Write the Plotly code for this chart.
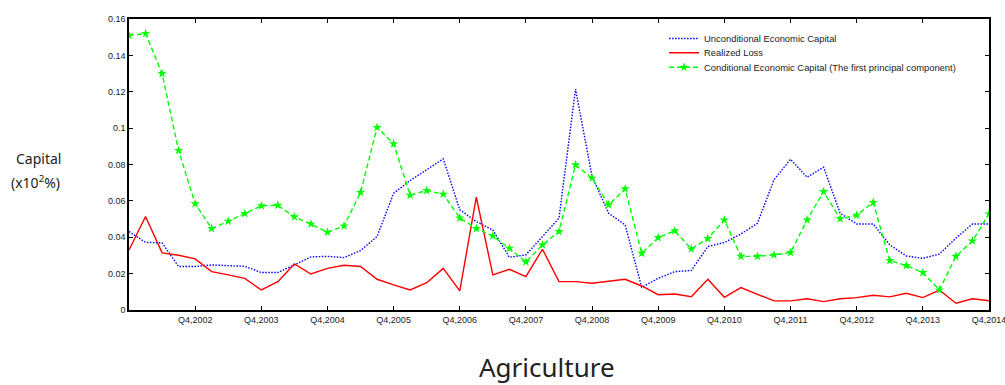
import plotly.graph_objects as go

tick_labels = ["Q4,%d" % y for y in range(2002, 2015)]
tick_pos = [4 * (k + 1) for k in range(len(tick_labels))]

unconditional = [0.0431, 0.0372, 0.0369, 0.0239, 0.0239, 0.0248, 0.0244, 0.0240, 0.0206, 0.0206,
                 0.0248, 0.0292, 0.0295, 0.0288, 0.0327, 0.0404, 0.0642, 0.0712, 0.0771, 0.0831,
                 0.0551, 0.0486, 0.0440, 0.0290, 0.0303, 0.0404, 0.0505, 0.1215, 0.0734, 0.0532,
                 0.0468, 0.0125, 0.0174, 0.0211, 0.0217, 0.0349, 0.0371, 0.0418, 0.0477, 0.0716,
                 0.0829, 0.0730, 0.0785, 0.0532, 0.0473, 0.0473, 0.0358, 0.0297, 0.0284, 0.0308,
                 0.0395, 0.0473, 0.0473]

realized = [0.0330, 0.0514, 0.0314, 0.0301, 0.0281, 0.0211, 0.0193, 0.0174, 0.0110, 0.0156,
            0.0253, 0.0198, 0.0229, 0.0246, 0.0239, 0.0169, 0.0138, 0.0110, 0.0150, 0.0229,
            0.0105, 0.0620, 0.0193, 0.0224, 0.0184, 0.0334, 0.0156, 0.0156, 0.0147, 0.0160,
            0.0169, 0.0132, 0.0084, 0.0088, 0.0073, 0.0169, 0.0070, 0.0123, 0.0086, 0.0050,
            0.0050, 0.0062, 0.0046, 0.0062, 0.0068, 0.0081, 0.0072, 0.0092, 0.0068, 0.0110,
            0.0037, 0.0062, 0.0051]

conditional = [0.1510, 0.1520, 0.1300, 0.0877, 0.0584, 0.0448, 0.0488, 0.0530, 0.0573, 0.0576,
               0.0512, 0.0473, 0.0428, 0.0462, 0.0646, 0.1004, 0.0914, 0.0631, 0.0657, 0.0637,
               0.0506, 0.0448, 0.0407, 0.0339, 0.0264, 0.0358, 0.0431, 0.0798, 0.0725, 0.0578,
               0.0666, 0.0312, 0.0398, 0.0435, 0.0336, 0.0393, 0.0495, 0.0295, 0.0295, 0.0303,
               0.0316, 0.0495, 0.0651, 0.0501, 0.0521, 0.0591, 0.0272, 0.0244, 0.0206, 0.0110,
               0.0295, 0.0380, 0.0528]

x = list(range(len(unconditional)))

fig = go.Figure()
fig.add_trace(go.Scatter(x=x, y=unconditional, mode="lines", name="Unconditional Economic Capital",
                         line=dict(color="#0000FF", width=1.4, dash="1.5px,1.5px"), legend="legend"))
fig.add_trace(go.Scatter(x=x, y=realized, mode="lines", name="Realized Loss",
                         line=dict(color="#FF0000", width=1.4), legend="legend2"))
fig.add_trace(go.Scatter(x=x, y=conditional, mode="lines+markers",
                         name="Conditional Economic Capital (The first principal component)",
                         line=dict(color="#00FF00", width=1.4, dash="5px,3px"),
                         marker=dict(symbol="star", size=7, color="#00FF00"), legend="legend3"))

axis_common = dict(showgrid=False, zeroline=False, showline=True, linecolor="black", linewidth=1.5,
                   mirror="ticks", ticks="inside", ticklen=4, tickcolor="black", automargin=False,
                   tickfont=dict(family="Liberation Sans, Arial", size=9, color="#222"))

fig.update_xaxes(range=[0, 52], tickvals=tick_pos, ticktext=tick_labels,
                 ticklabeloverflow="allow", **axis_common)
fig.update_yaxes(range=[0, 0.16], dtick=0.02, **axis_common)

leg_font = dict(family="Liberation Sans, Arial", size=9.4, color="#222")
leg_base = dict(x=0.6222, xanchor="left", yanchor="top", bgcolor="rgba(0,0,0,0)",
                font=leg_font, itemwidth=30)

fig.update_layout(
    width=1005, height=385,
    margin=dict(l=129, r=16, t=19, b=75, autoexpand=False),
    plot_bgcolor="white", paper_bgcolor="white",
    showlegend=True,
    legend=dict(y=0.9828, **leg_base),
    legend2=dict(y=0.9337, **leg_base),
    legend3=dict(y=0.8842, **leg_base),
    annotations=[
        dict(text="Capital", xref="paper", yref="paper",
             x=-0.1058, y=0.522, xanchor="center", yanchor="middle", showarrow=False,
             font=dict(family="Noto Sans", size=14, color="#222")),
        dict(text="(x10<sup>2</sup>%)", xref="paper", yref="paper",
             x=-0.1093, y=0.44, xanchor="center", yanchor="middle", showarrow=False,
             font=dict(family="Noto Sans", size=14, color="#222")),
        dict(text="Agriculture", xref="paper", yref="paper", x=0.486, y=-0.196,
             xanchor="center", yanchor="middle", showarrow=False,
             font=dict(family="Noto Sans", size=26, color="#222")),
    ],
)

fig.write_html("out.html")
